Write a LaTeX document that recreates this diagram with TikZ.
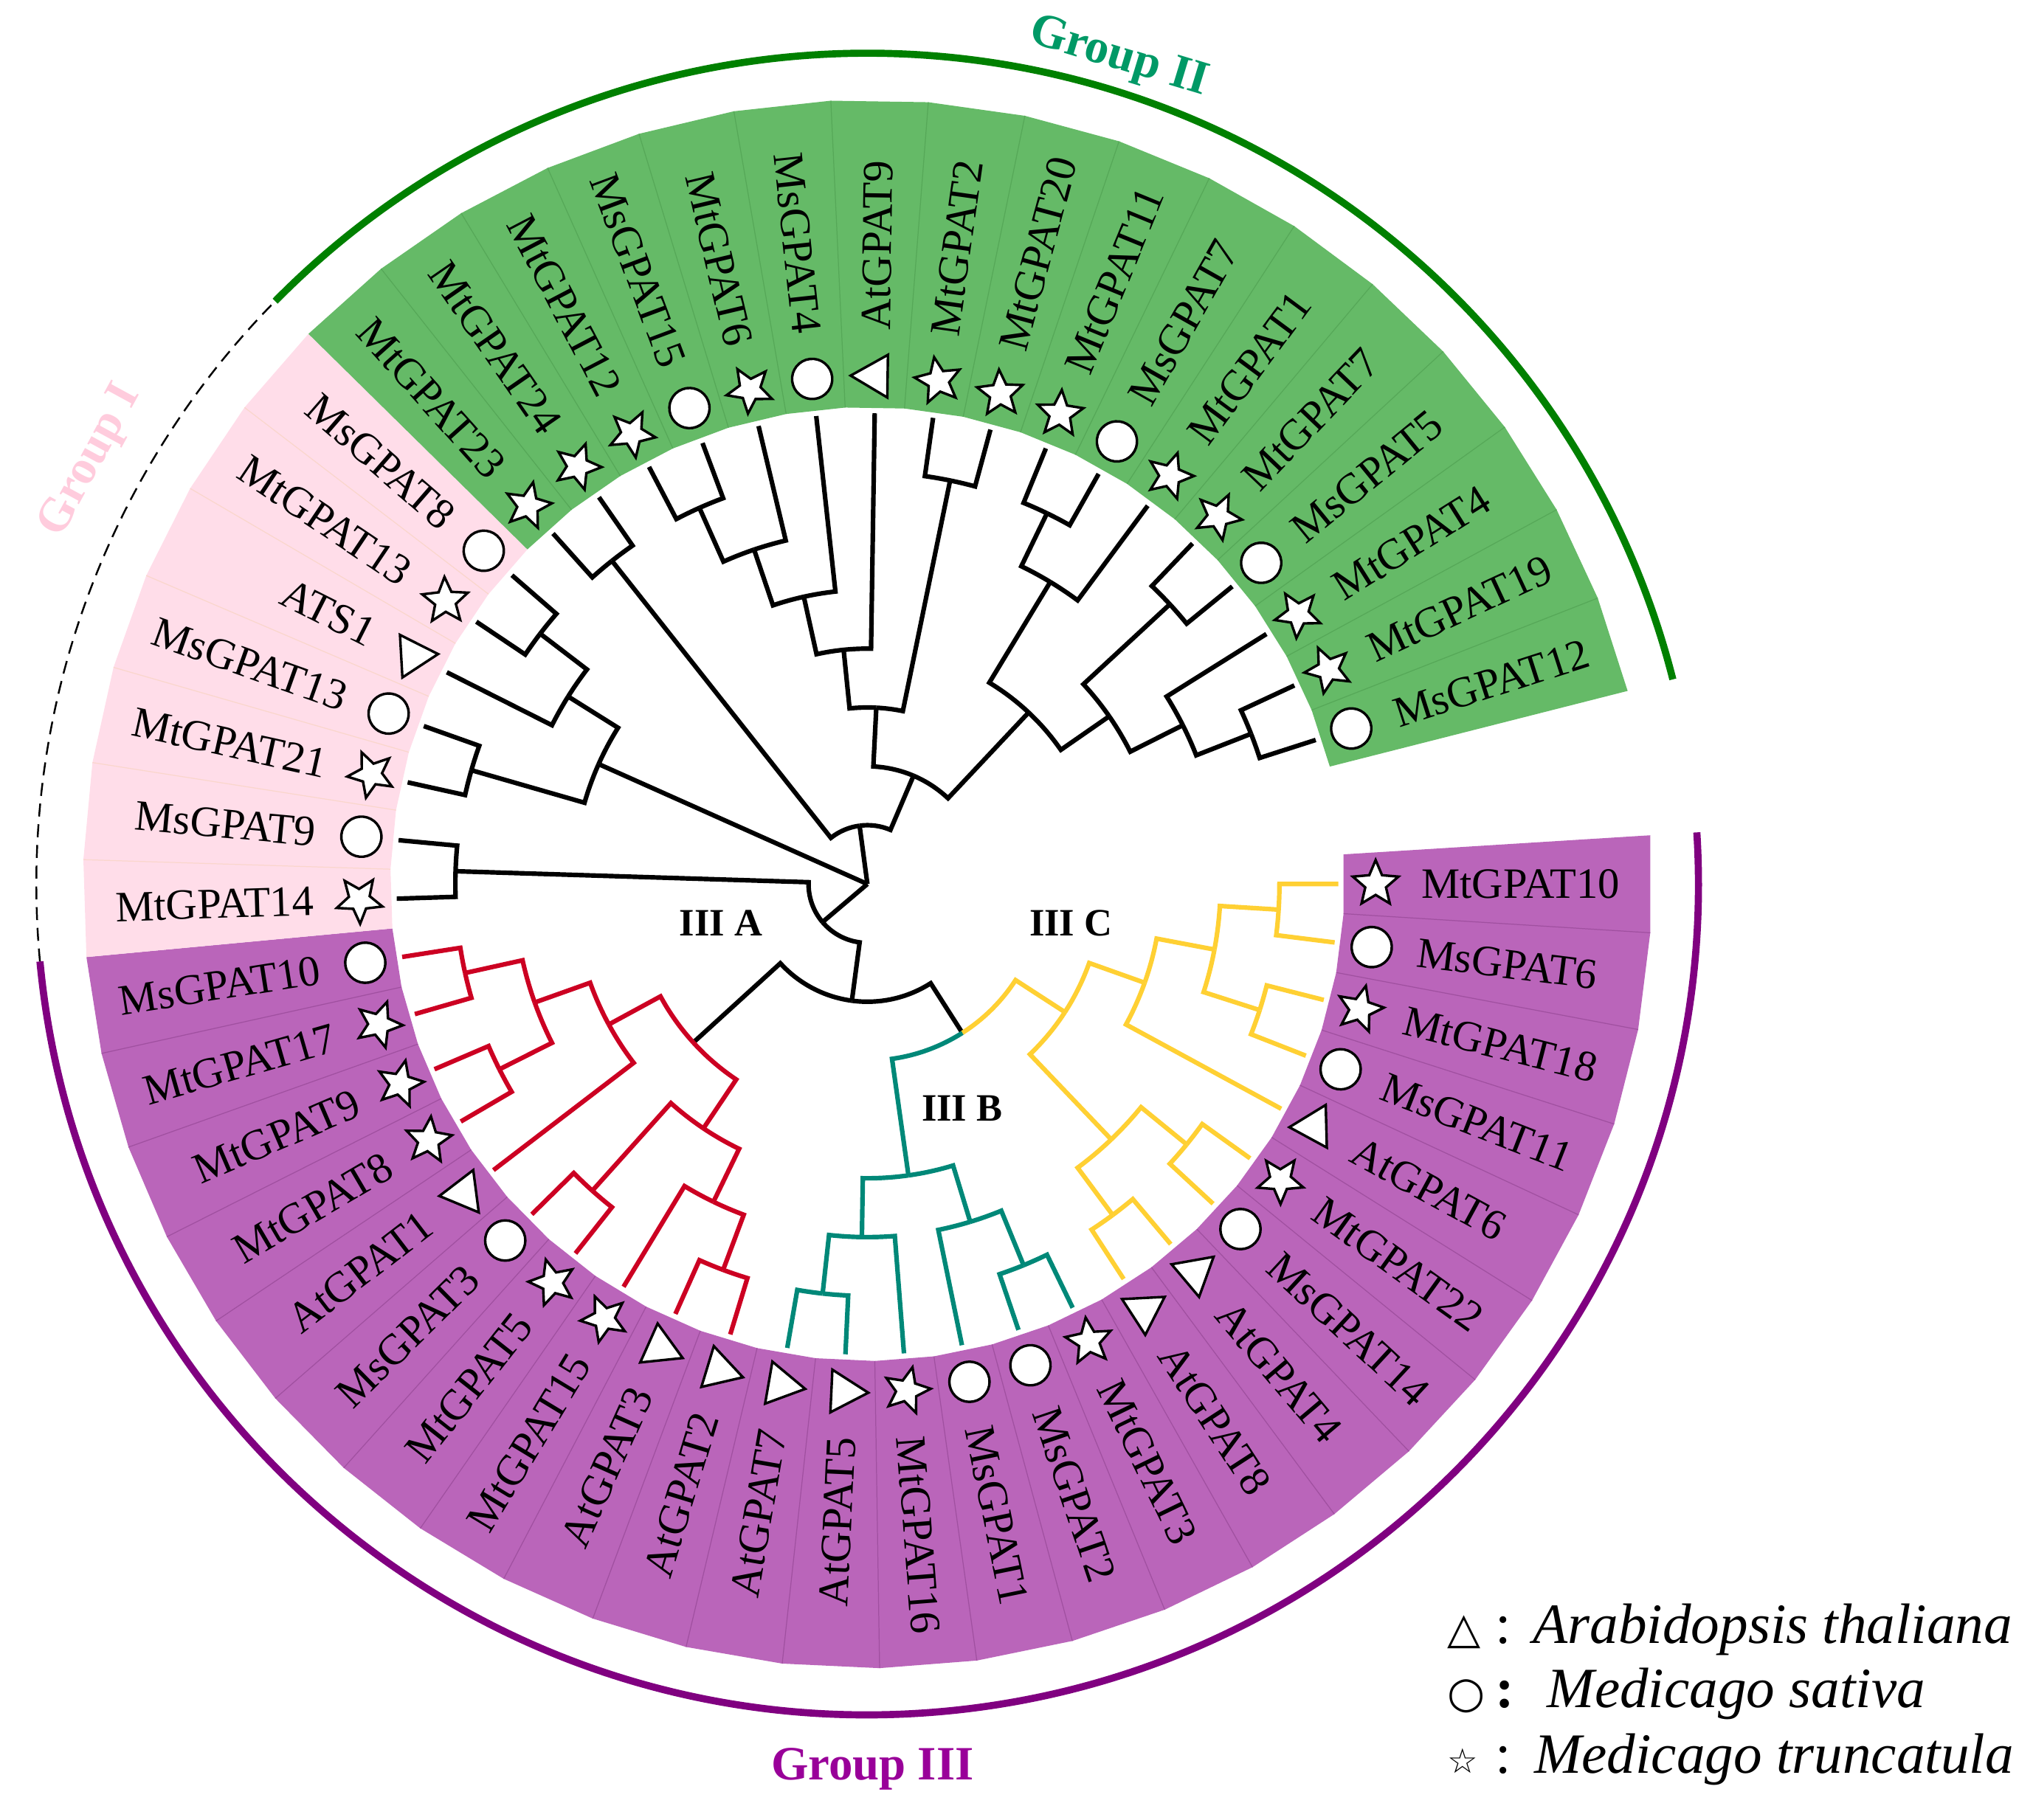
\documentclass[tikz,border=0pt]{standalone}
\usepackage{fontspec}
\setmainfont{Liberation Serif}
\newfontfamily\symfont{DejaVu Sans}
\usetikzlibrary{shapes.geometric,positioning}

\definecolor{bandgreen}{RGB}{101,186,103}
\definecolor{seamgreen}{RGB}{86,168,88}
\definecolor{bandpink}{RGB}{255,221,233}
\definecolor{seampink}{RGB}{250,214,204}
\definecolor{bandpurple}{RGB}{186,101,186}
\definecolor{seampurple}{RGB}{160,80,160}
\definecolor{clred}{RGB}{204,0,34}
\definecolor{clteal}{RGB}{0,136,120}
\definecolor{clyellow}{RGB}{255,208,51}
\definecolor{grpone}{RGB}{255,204,221}
\definecolor{grptwo}{RGB}{0,153,102}
\definecolor{grpthree}{RGB}{153,0,153}
\definecolor{arcgreen}{RGB}{0,128,0}
\definecolor{arcpurple}{RGB}{128,0,128}

\tikzset{
  branch/.style={line width=2pt, line join=miter},
  leaflabel/.style={inner sep=0pt, font=\fontsize{19}{21}\selectfont},
  symbase/.style={draw, fill=white, line width=1.1pt, inner sep=0pt},
  symc/.style={symbase, circle, minimum size=0.62cm},
  syms/.style={symbase, star, star points=5, star point ratio=2.2, minimum size=0.74cm},
  symt/.style={symbase, regular polygon, regular polygon sides=3, minimum size=0.76cm},
  cladelabel/.style={font=\bfseries\fontsize{17}{20}\selectfont},
  grplabel/.style={font=\bfseries\fontsize{21}{24}\selectfont},
  legtext/.style={font=\itshape\fontsize{25}{28}\selectfont, inner sep=0pt, anchor=base west},
  legsym/.style={inner sep=0pt, anchor=base west},
}

\newcommand\dd{7.12871}
\newcommand\lv{45.4}
% one branch: arc on the parent level, then out to the child level
\newcommand\twig[5][black]{%
  \pgfmathsetmacro\aP{-(#3)*\dd}\pgfmathsetmacro\aC{-(#5)*\dd}%
  \pgfmathsetmacro\rP{#2*\lv}\pgfmathsetmacro\rC{#4*\lv}%
  \draw[branch,#1] (\aP:\rP) arc[start angle=\aP, end angle=\aC, radius=\rP] -- (\aC:\rC);}
\newcommand\rootwig[2]{%
  \pgfmathsetmacro\aC{-(#2)*\dd}\pgfmathsetmacro\rC{#1*\lv}%
  \draw[branch] (0,0) -- (\aC:\rC);}

\begin{document}
\begin{tikzpicture}[x=0.2mm, y=0.2mm]
\useasboundingbox (-669,-722) rectangle (899,682);

% label backgrounds
\foreach \i in {0,...,48}{
  \pgfmathsetmacro\aA{-(\i-0.5)*\dd}
  \pgfmathsetmacro\aB{-(\i+0.5)*\dd}
  \ifnum\i<25 \def\bandc{bandpurple}\else\ifnum\i<32 \def\bandc{bandpink}\else\def\bandc{bandgreen}\fi\fi
  \fill[\bandc] (\aA:368) -- (\aB:368) -- (\aB:605) -- (\aA:605) -- cycle;
}
\foreach \i in {0,...,23}{\pgfmathsetmacro\aB{-(\i+0.5)*\dd}
  \draw[seampurple, line width=0.4pt] (\aB:368) -- (\aB:605);}
\foreach \i in {25,...,30}{\pgfmathsetmacro\aB{-(\i+0.5)*\dd}
  \draw[seampink, line width=0.4pt] (\aB:368) -- (\aB:605);}
\foreach \i in {32,...,47}{\pgfmathsetmacro\aB{-(\i+0.5)*\dd}
  \draw[seamgreen, line width=0.4pt] (\aB:368) -- (\aB:605);}

% root
\rootwig{1}{36.8046875}
\rootwig{5}{28.625}
\rootwig{1}{19.59375}

% Group III and MsGPAT9/MtGPAT14
\twig{1}{19.59375}{2}{13.6875}
\twig{1}{19.59375}{7}{25.5}
\twig{7}{25.5}{8}{25} \twig{7}{25.5}{8}{26}
\twig{2}{13.6875}{3}{8.0625}
\twig{2}{13.6875}{4}{19.3125}

% III C
\twig[clyellow]{3}{8.0625}{4}{4.625}
\twig[clyellow]{4}{4.625}{5}{2.75}
\twig[clyellow]{4}{4.625}{6}{6.5}
\twig[clyellow]{5}{2.75}{6}{1.5}
\twig[clyellow]{5}{2.75}{8}{4}
\twig[clyellow]{6}{1.5}{7}{0.5}
\twig[clyellow]{6}{1.5}{7}{2.5}
\twig[clyellow]{7}{0.5}{8}{0} \twig[clyellow]{7}{0.5}{8}{1}
\twig[clyellow]{7}{2.5}{8}{2} \twig[clyellow]{7}{2.5}{8}{3}
\twig[clyellow]{6}{6.5}{7}{5.5}
\twig[clyellow]{6}{6.5}{7}{7.5}
\twig[clyellow]{7}{5.5}{8}{5} \twig[clyellow]{7}{5.5}{8}{6}
\twig[clyellow]{7}{7.5}{8}{7} \twig[clyellow]{7}{7.5}{8}{8}

% III B
\twig[clteal]{3}{8.0625}{5}{11.5}
\twig[clteal]{5}{11.5}{6}{12.75}
\twig[clteal]{5}{11.5}{6}{10.25}
\twig[clteal]{6}{12.75}{8}{12}
\twig[clteal]{6}{12.75}{7}{13.5}
\twig[clteal]{7}{13.5}{8}{13} \twig[clteal]{7}{13.5}{8}{14}
\twig[clteal]{6}{10.25}{7}{9.5}
\twig[clteal]{6}{10.25}{8}{11}
\twig[clteal]{7}{9.5}{8}{9} \twig[clteal]{7}{9.5}{8}{10}

% III A
\twig[clred]{4}{19.3125}{5}{17.375}
\twig[clred]{4}{19.3125}{5}{21.25}
\twig[clred]{5}{17.375}{7}{18.5}
\twig[clred]{5}{17.375}{6}{16.25}
\twig[clred]{7}{18.5}{8}{18} \twig[clred]{7}{18.5}{8}{19}
\twig[clred]{6}{16.25}{8}{17}
\twig[clred]{6}{16.25}{7}{15.5}
\twig[clred]{7}{15.5}{8}{15} \twig[clred]{7}{15.5}{8}{16}
\twig[clred]{5}{21.25}{8}{20}
\twig[clred]{5}{21.25}{6}{22.5}
\twig[clred]{6}{22.5}{7}{21.5}
\twig[clred]{6}{22.5}{7}{23.5}
\twig[clred]{7}{21.5}{8}{21} \twig[clred]{7}{21.5}{8}{22}
\twig[clred]{7}{23.5}{8}{23} \twig[clred]{7}{23.5}{8}{24}

% Group I
\twig{5}{28.625}{7}{27.5}
\twig{5}{28.625}{6}{29.75}
\twig{7}{27.5}{8}{27} \twig{7}{27.5}{8}{28}
\twig{6}{29.75}{8}{29}
\twig{6}{29.75}{7}{30.5}
\twig{7}{30.5}{8}{30} \twig{7}{30.5}{8}{31}

% Group II
\twig{1}{36.8046875}{7}{32.5}
\twig{1}{36.8046875}{2}{41.109375}
\twig{7}{32.5}{8}{32} \twig{7}{32.5}{8}{33}
\twig{2}{41.109375}{3}{38.28125}
\twig{2}{41.109375}{4}{43.9375}
\twig{3}{38.28125}{4}{37.0625}
\twig{3}{38.28125}{7}{39.5}
\twig{7}{39.5}{8}{39} \twig{7}{39.5}{8}{40}
\twig{4}{37.0625}{5}{36.125}
\twig{4}{37.0625}{8}{38}
\twig{5}{36.125}{6}{35.25}
\twig{5}{36.125}{8}{37}
\twig{6}{35.25}{7}{34.5}
\twig{6}{35.25}{8}{36}
\twig{7}{34.5}{8}{34} \twig{7}{34.5}{8}{35}
\twig{4}{43.9375}{6}{42.25}
\twig{4}{43.9375}{5}{45.625}
\twig{6}{42.25}{7}{41.5}
\twig{6}{42.25}{8}{43}
\twig{7}{41.5}{8}{41} \twig{7}{41.5}{8}{42}
\twig{5}{45.625}{7}{44.5}
\twig{5}{45.625}{6}{46.75}
\twig{7}{44.5}{8}{44} \twig{7}{44.5}{8}{45}
\twig{6}{46.75}{8}{46}
\twig{6}{46.75}{7}{47.5}
\twig{7}{47.5}{8}{47} \twig{7}{47.5}{8}{48}

% leaves: symbol and name
\foreach \nm/\sy [count=\i from 0] in {MtGPAT10/s, MsGPAT6/c, MtGPAT18/s, MsGPAT11/c,
    AtGPAT6/t, MtGPAT22/s, MsGPAT14/c, AtGPAT4/t, AtGPAT8/t, MtGPAT3/s, MsGPAT2/c,
    MsGPAT1/c, MtGPAT16/s, AtGPAT5/t, AtGPAT7/t, AtGPAT2/t, AtGPAT3/t, MtGPAT15/s,
    MtGPAT5/s, MsGPAT3/c, AtGPAT1/t, MtGPAT8/s, MtGPAT9/s, MtGPAT17/s, MsGPAT10/c,
    MtGPAT14/s, MsGPAT9/c, MtGPAT21/s, MsGPAT13/c, ATS1/t, MtGPAT13/s, MsGPAT8/c,
    MtGPAT23/s, MtGPAT24/s, MtGPAT12/s, MsGPAT15/c, MtGPAT6/s, MsGPAT4/c, AtGPAT9/t,
    MtGPAT2/s, MtGPAT20/s, MtGPAT11/s, MsGPAT7/c, MtGPAT1/s, MtGPAT7/s, MsGPAT5/c,
    MtGPAT4/s, MtGPAT19/s, MsGPAT12/c}{
  \pgfmathsetmacro\a{-\i*\dd}
  \ifnum\i>12 \ifnum\i<38 \def\anc{east}\pgfmathsetmacro\rot{\a+180}\else
    \def\anc{west}\let\rot\a\fi \else \def\anc{west}\let\rot\a\fi
  \node[sym\sy, rotate=\a] (s\i) at (\a:392) {};
  \node[leaflabel, anchor=\anc, rotate=\rot] (l\i) at (\a:427) {\nm};
}

% clade names
\node[cladelabel] (cA) at (-113,-30) {III A};
\node[cladelabel] (cC) at (157,-30) {III C};
\node[cladelabel] (cB) at (73,-173) {III B};

% group arcs
\draw[arcgreen, line width=0.11cm] (135.45:641) arc[start angle=135.45, end angle=14.26, radius=641];
\draw[arcpurple, line width=0.11cm] (3.564:641) arc[start angle=3.564, end angle=-174.65, radius=641];
\draw[black, line width=0.8pt, dash pattern=on 0.2cm off 0.12cm] (-174.65:641) arc[start angle=-174.65, end angle=-224.55, radius=641];

\node[grplabel, text=grptwo, rotate=-16.9] (g2) at (73.1:666) {Group II};
\node[grplabel, text=grpone, rotate=61.4] (g1) at (151.4:682) {Group I};
\node[grplabel, text=grpthree] (g3) at (4,-683) {Group III};

% legend
\node[legsym, font=\symfont\fontsize{19}{20}\selectfont] (k1) at (447,-586) {△};
\node[legsym, font=\fontsize{25}{28}\selectfont] (q1) at (484,-586) {:};
\node[legtext] (t1) at (513,-586) {Arabidopsis thaliana};
\node[legsym, font=\symfont\fontsize{19}{20}\selectfont] (k2) at (447,-635) {○};
\node[legsym, font=\bfseries\fontsize{25}{28}\selectfont] (q2) at (484,-635) {:};
\node[legtext] (t2) at (524,-635) {Medicago sativa};
\node[legsym, font=\symfont\fontsize{15}{20}\selectfont] (k3) at (447,-686) {☆};
\node[legsym, font=\fontsize{25}{28}\selectfont] (q3) at (484,-686) {:};
\node[legtext] (t3) at (514,-686) {Medicago truncatula};
\end{tikzpicture}
\end{document}
